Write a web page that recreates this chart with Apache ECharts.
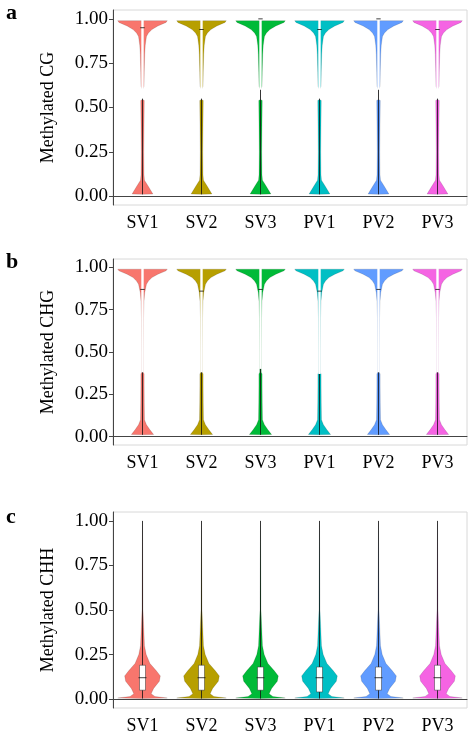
<!DOCTYPE html>
<html><head><meta charset="utf-8">
<script src="https://cdn.jsdelivr.net/npm/echarts@6/dist/echarts.min.js"></script>
<style>html,body{margin:0;background:#fff}#main{width:474px;height:735px}</style>
</head><body><div id="main"></div>
<script>
var groups = ['SV1', 'SV2', 'SV3', 'PV1', 'PV2', 'PV3'];
var colors = ['#F8766D', '#B79F00', '#00BA38', '#00BFC4', '#619CFF', '#F564E3'];
var tickValues = [0, 0.25, 0.5, 0.75, 1];
var panelNames = ['Methylated CG', 'Methylated CHG', 'Methylated CHH'];
var panelLetters = ['a', 'b', 'c'];

// violin outline: y levels and relative half-widths (1 = widest)
var cgY = [0.01, 0.012, 0.04, 0.07, 0.09, 0.12, 0.25, 0.4, 0.54, 0.545, 0.6, 0.62, 0.7, 0.8, 0.85, 0.9, 0.92, 0.94, 0.96, 0.98, 0.99];
var cgW = [0, 0.42, 0.3, 0.17, 0.08, 0.06, 0.05, 0.06, 0.07, 0, 0, 0.06, 0.07, 0.09, 0.11, 0.16, 0.24, 0.38, 0.62, 0.95, 1];
var chgY = [0.01, 0.012, 0.04, 0.07, 0.1, 0.2, 0.3, 0.37, 0.38, 0.5, 0.7, 0.8, 0.85, 0.9, 0.92, 0.94, 0.96, 0.98, 0.99];
var chgW = [0, 0.45, 0.3, 0.16, 0.08, 0.07, 0.065, 0.065, 0.03, 0.03, 0.04, 0.06, 0.09, 0.16, 0.24, 0.38, 0.62, 0.95, 1];
var chhY = [0.003, 0.006, 0.015, 0.03, 0.06, 0.1, 0.13, 0.16, 0.2, 0.25, 0.3, 0.4, 0.5, 0.7, 1.0];
var chhW = [0, 1.0, 0.5, 0.35, 0.45, 0.68, 0.72, 0.55, 0.3, 0.15, 0.08, 0.05, 0.02, 0.012, 0];
var profiles = [[cgY, cgW], [chgY, chgW], [chhY, chhW]];

// box stats per panel: [q1, median, q3]
var cgBox = [[0.55, 0.95, 1.0], [0.55, 0.94, 1.0], [0.6, 1.0, 1.0], [0.55, 0.94, 1.0], [0.6, 1.0, 1.0], [0.55, 0.94, 1.0]];
var chgBox = [[0.38, 0.87, 1.0], [0.38, 0.86, 1.0], [0.4, 0.87, 1.0], [0.37, 0.86, 1.0], [0.38, 0.87, 1.0], [0.38, 0.87, 1.0]];
var chhBox = [[0.05, 0.12, 0.19], [0.05, 0.12, 0.19], [0.05, 0.12, 0.18], [0.04, 0.12, 0.18], [0.05, 0.12, 0.18], [0.05, 0.12, 0.19]];
var boxes = [cgBox, chgBox, chhBox];

var layout = [{top: 10, height: 195}, {top: 259, height: 186}, {top: 512, height: 196}];
var font = 'Liberation Serif';

function makeRender(p) {
  return function (params, api) {
    var i = api.value(0);
    var band = api.size([1, 0])[0];
    var hw = band * 0.42;
    var ys = profiles[p][0], ws = profiles[p][1];
    var right = [], left = [];
    for (var k = 0; k < ys.length; k++) {
      var c = api.coord([i, ys[k]]);
      right.push([c[0] + ws[k] * hw, c[1]]);
      left.unshift([c[0] - ws[k] * hw, c[1]]);
    }
    var b = boxes[p][i];
    var lo = api.coord([i, ys[0]]), hi = api.coord([i, ys[ys.length - 1]]);
    var q1 = api.coord([i, b[0]]), md = api.coord([i, b[1]]), q3 = api.coord([i, b[2]]);
    var bw = p === 2 ? 3 : 1.2;
    return {type: 'group', children: [
      {type: 'polygon', shape: {points: right.concat(left)}, style: {fill: colors[i], stroke: 'rgba(0,0,0,0.25)', lineWidth: 0.5}},
      {type: 'line', shape: {x1: lo[0], y1: lo[1], x2: hi[0], y2: hi[1]}, style: {stroke: '#111', lineWidth: 0.8}},
      {type: 'rect', shape: {x: q3[0] - bw, y: q3[1], width: bw * 2, height: q1[1] - q3[1]},
        style: {fill: '#fff', stroke: p === 2 ? '#333' : null, lineWidth: 0.5}},
      {type: 'line', shape: {x1: md[0] - bw - 1, y1: md[1], x2: md[0] + bw + 1, y2: md[1]}, style: {stroke: '#111', lineWidth: 0.8}}
    ]};
  };
}

var grid = [], xAxis = [], yAxis = [], series = [], graphic = [];
for (var p = 0; p < 3; p++) {
  grid.push({left: 113, right: 7, top: layout[p].top, height: layout[p].height, show: true, borderColor: '#d8d8d8', borderWidth: 1});
  xAxis.push({type: 'category', gridIndex: p, data: groups, boundaryGap: true,
    axisLine: {lineStyle: {color: '#444'}}, axisTick: {show: false},
    axisLabel: {fontFamily: font, fontSize: 18, color: '#000', margin: 9}});
  yAxis.push({type: 'value', gridIndex: p, min: -0.05, max: 1.05,
    axisLine: {show: true, lineStyle: {color: '#444'}},
    axisTick: {show: true, customValues: tickValues, length: 4, lineStyle: {color: '#444'}},
    axisLabel: {customValues: tickValues, fontFamily: font, fontSize: 19, color: '#000', margin: 5,
      formatter: function (v) { return v.toFixed(2); }},
    splitLine: {show: false},
    name: panelNames[p], nameLocation: 'middle', nameGap: 56,
    nameTextStyle: {fontFamily: font, fontSize: 18, color: '#000'}});
  series.push({type: 'custom', xAxisIndex: p, yAxisIndex: p, renderItem: makeRender(p),
    data: groups.map(function (g, i) { return [i]; }), silent: true});
  graphic.push({type: 'text', left: 6, top: layout[p].top - 8 + (p === 2 ? 2 : 0),
    style: {text: panelLetters[p], font: 'bold 22px "' + font + '"', fill: '#000'}});
}

var chart = echarts.init(document.getElementById('main'));
chart.setOption({animation: false, grid: grid, xAxis: xAxis, yAxis: yAxis, series: series, graphic: graphic});
</script>
</body></html>
